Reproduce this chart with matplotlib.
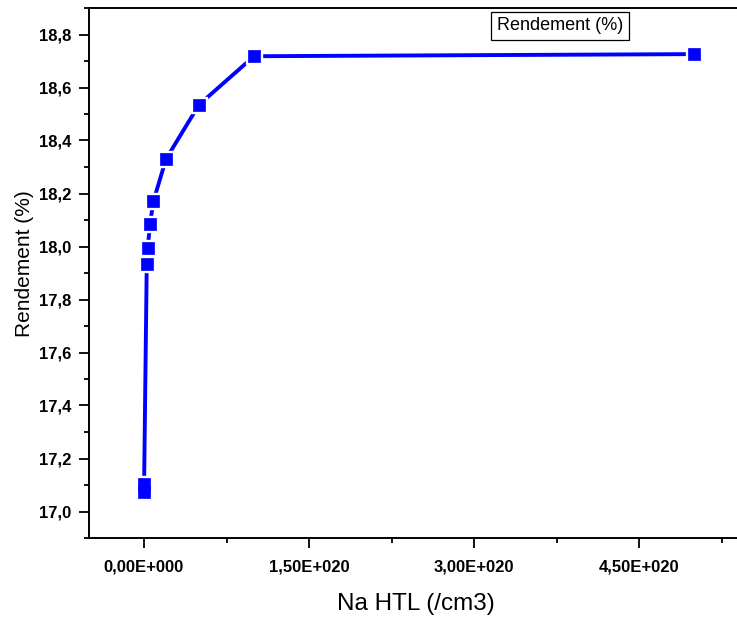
import matplotlib
matplotlib.use("Agg")
import matplotlib.pyplot as plt
from matplotlib.ticker import FuncFormatter, MultipleLocator

plt.rcParams['font.family'] = ['Liberation Sans', 'DejaVu Sans']

na_htl = [1e16, 1e17, 2.5e18, 3.4e18, 5.5e18, 8.5e18, 2e19, 5e19, 1e20, 5e20]
rendement = [17.075, 17.105, 17.934, 17.995, 18.085, 18.17, 18.33, 18.535, 18.718, 18.726]
series_label = "Rendement (%)"
x_label = "Na HTL (/cm3)"
y_label = "Rendement (%)"

W, H = 737, 618
fig = plt.figure(figsize=(W / 100, H / 100), dpi=100)
ax = fig.add_axes([89 / W, 1 - 538 / H, 654.5 / W, 530 / H])

blue = '#0000ff'
ax.plot(na_htl, rendement, color=blue, lw=2.8, zorder=2)
ax.plot(na_htl, rendement, ls='none', marker='s', ms=11.5, mfc='white', mec='white', zorder=3)
ax.plot(na_htl, rendement, ls='none', marker='s', ms=8.0, mfc=blue, mec=blue, mew=0.5, zorder=4)

ax.set_xlim(-5e19, 5.45e20)
ax.set_ylim(16.9, 18.9)

ax.xaxis.set_major_locator(MultipleLocator(1.5e20))
ax.xaxis.set_minor_locator(MultipleLocator(0.75e20))
ax.yaxis.set_major_locator(MultipleLocator(0.2))
ax.yaxis.set_minor_locator(MultipleLocator(0.1))


def xfmt(v, pos):
    if abs(v) < 1e10:
        return "0,00E+000"
    exp = 0
    m = v
    while abs(m) >= 10:
        m /= 10
        exp += 1
    return ("%.2f" % m).replace('.', ',') + "E+%03d" % exp


def yfmt(v, pos):
    return ("%.1f" % v).replace('.', ',')


ax.xaxis.set_major_formatter(FuncFormatter(xfmt))
ax.yaxis.set_major_formatter(FuncFormatter(yfmt))

ax.spines['right'].set_visible(False)
for s in ['left', 'top', 'bottom']:
    ax.spines[s].set_linewidth(1.4)

ax.tick_params(which='major', direction='out', length=7.5, width=1.3, labelsize=12, pad=5)
ax.tick_params(which='minor', direction='out', length=3.7, width=1.3)
ax.tick_params(axis='x', which='major', pad=8)
ax.tick_params(axis='x', which='both', top=False)
for lab in ax.get_xticklabels() + ax.get_yticklabels():
    lab.set_fontweight('bold')

ax.set_xlabel(x_label, fontsize=17.5, labelpad=13)
ax.set_ylabel(y_label, fontsize=15, labelpad=4)
ax.yaxis.label.set_position((0, (538 - 264) / 530))

ax.text(560 / W, 1 - 26 / H, series_label, transform=fig.transFigure, ha='center', va='center',
        fontsize=13, bbox=dict(boxstyle='square,pad=0.3', fc='white', ec='black', lw=0.9))

fig.savefig("out.png", dpi=100)
